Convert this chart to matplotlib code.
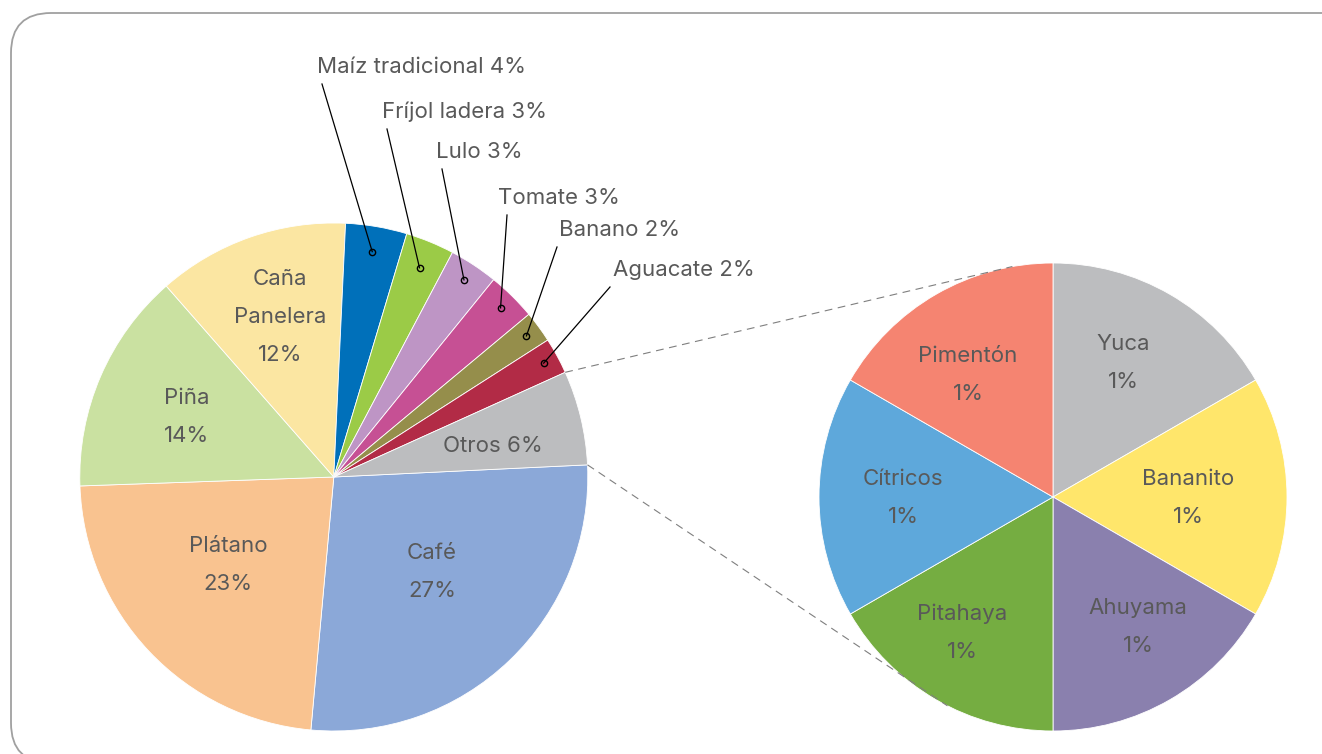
import numpy as np
import matplotlib
matplotlib.use("Agg")
import matplotlib.pyplot as plt
from matplotlib.patches import FancyBboxPatch

# Main pie data (percent)
main_labels = ["Café", "Plátano", "Piña", "Caña\nPanelera", "Maíz tradicional",
               "Fríjol ladera", "Lulo", "Tomate", "Banano", "Aguacate", "Otros"]
main_pct_text = ["27%", "23%", "14%", "12%", "4%", "3%", "3%", "3%", "2%", "2%", "6%"]
main_values = [27.2, 23.0, 14.1, 12.2, 3.9, 3.1, 3.1, 3.1, 2.0, 2.3, 6.0]
main_colors = ["#8BA8D8", "#F9C390", "#CAE1A1", "#FBE6A2", "#0070BA", "#9BCB47",
               "#BE95C5", "#C65094", "#958E4B", "#B22B46", "#BCBDBF"]

# "Otros" broken down
sub_labels = ["Yuca", "Bananito", "Ahuyama", "Pitahaya", "Cítricos", "Pimentón"]
sub_pct_text = ["1%", "1%", "1%", "1%", "1%", "1%"]
sub_values = [1, 1, 1, 1, 1, 1]
sub_colors = ["#BCBDBF", "#FFE66B", "#8A80AE", "#75AD41", "#5EA8DB", "#F58471"]

W, H = 1322, 754
TXT = "#595959"
FONT = ["Inter", "DejaVu Sans"]
FS = 16


def Y(y):
    # pixel row -> data y
    return H - y


fig = plt.figure(figsize=(W / 100, H / 100), dpi=100)
ax = fig.add_axes([0, 0, 1, 1])

c1 = (333.8, Y(477))
r1 = 254
c2 = (1053, Y(497))
r2 = 234

wedges1, _ = ax.pie(main_values, colors=main_colors, startangle=2.74, counterclock=False,
                    center=c1, radius=r1, wedgeprops=dict(linewidth=0.6, edgecolor="white"))
wedges2, _ = ax.pie(sub_values, colors=sub_colors, startangle=90, counterclock=False,
                    center=c2, radius=r2, wedgeprops=dict(linewidth=0.6, edgecolor="white"))

ax.set_xlim(0, W)
ax.set_ylim(0, H)
ax.set_aspect("equal")
ax.axis("off")

# rounded frame (right and bottom sides run off the picture)
frame = FancyBboxPatch((11, Y(763)), 1400, 750, boxstyle="round,pad=0,rounding_size=40",
                       facecolor="none", edgecolor="#A0A0A0", linewidth=1.3, zorder=0)
ax.add_patch(frame)


def write_lines(x, y, txt, ha="center"):
    lines = txt.split("\n")
    n = len(lines)
    for k, ln in enumerate(lines):
        yy = y + (k - (n - 1) / 2) * 37.6
        ax.text(x, Y(yy), ln, ha=ha, va="center", fontsize=FS, color=TXT,
                family=FONT, zorder=5)


# labels inside main pie
inside_pos = {0: (432, 572), 1: (228, 565), 2: (187, 417), 3: (280, 317)}
for i, (x, y) in inside_pos.items():
    write_lines(x, y, main_labels[i] + "\n" + main_pct_text[i])
write_lines(493, 446, main_labels[10] + " " + main_pct_text[10])

# outside labels with leader lines
outside_pos = {4: (317, 67, 0.90), 5: (382, 112, 0.89), 6: (436, 152, 0.93),
               7: (498, 198, 0.935), 8: (559, 230, 0.94), 9: (613, 270, 0.94)}
start_dx = {4: 5, 5: 5, 6: 6, 7: 9, 8: -2, 9: -3}
for i, (x, y, rf) in outside_pos.items():
    ax.text(x, Y(y), main_labels[i] + " " + main_pct_text[i], ha="left", va="center",
            fontsize=FS, color=TXT, family=FONT, zorder=5)
    w = wedges1[i]
    mid = np.deg2rad((w.theta1 + w.theta2) / 2)
    ex = c1[0] + rf * r1 * np.cos(mid)
    ey = c1[1] + rf * r1 * np.sin(mid)
    sx, sy = x + start_dx[i], Y(y + 17)
    ax.plot([sx, ex], [sy, ey], color="black", linewidth=0.9, zorder=6)
    ax.plot(ex, ey, "o", markersize=4.5, markerfacecolor="none",
            markeredgecolor="black", markeredgewidth=1.0, zorder=7)

# labels in second pie
sub_pos = [(1123, 363), (1188, 498), (1138, 627), (962, 633), (903, 498), (968, 375)]
for lab, pct, (x, y) in zip(sub_labels, sub_pct_text, sub_pos):
    write_lines(x, y, lab + "\n" + pct)

# connectors between "Otros" and the second pie
ow = wedges1[10]
for th, th2 in [(ow.theta2, 100.0), (ow.theta1, -116.8)]:
    a = np.deg2rad(th)
    b = np.deg2rad(th2)
    p0 = (c1[0] + r1 * np.cos(a), c1[1] + r1 * np.sin(a))
    p1 = (c2[0] + r2 * np.cos(b), c2[1] + r2 * np.sin(b))
    ax.plot([p0[0], p1[0]], [p0[1], p1[1]], color="#7F7F7F", linewidth=0.8,
            dashes=(7, 5), zorder=4)

fig.savefig("out.png", dpi=100)
